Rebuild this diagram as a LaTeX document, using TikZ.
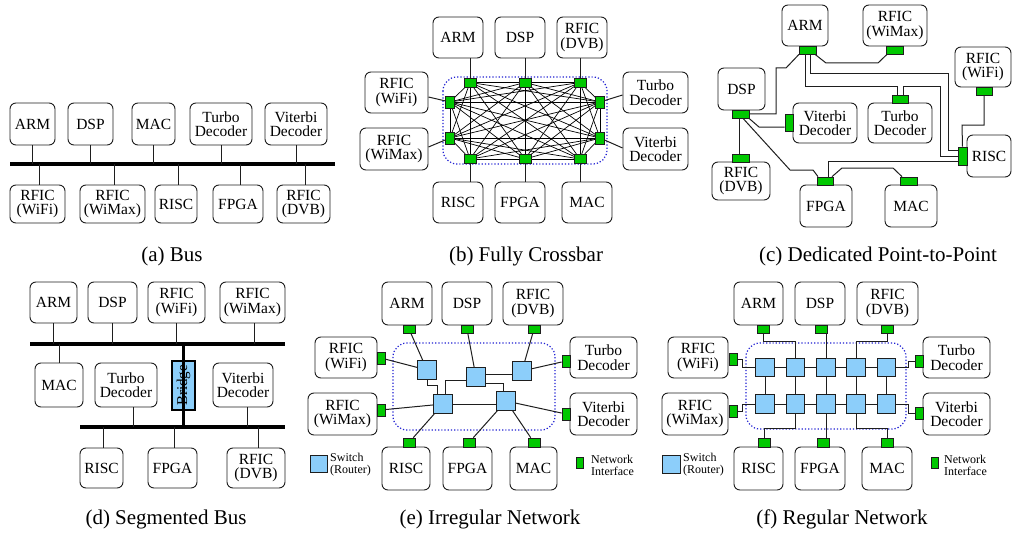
\documentclass[tikz,border=0pt]{standalone}
\usepackage{fontspec}
\setmainfont{Liberation Serif}
\usetikzlibrary{calc,backgrounds}
\definecolor{nigreen}{RGB}{0,200,0}
\definecolor{swblue}{RGB}{140,206,250}
\definecolor{dotblue}{RGB}{30,30,210}
\definecolor{edge}{RGB}{30,30,30}
\tikzset{
  blk/.style={draw=edge, line width=0.9pt, rounded corners=6pt, fill=white, inner sep=0pt,
              align=center, font=\fontsize{15.5}{14.5}\selectfont},
  ni/.style={draw=edge, line width=0.7pt, fill=nigreen, inner sep=0pt},
  sw/.style={draw=edge, line width=0.8pt, fill=swblue, inner sep=0pt, minimum size=19pt},
  wire/.style={draw=edge, line width=1pt},
  bus/.style={line width=4pt, black},
  xbar/.style={line width=0.7pt, black},
  region/.style={draw=dotblue, dotted, line width=1.2pt, rounded corners=14pt},
  bridgebox/.style={draw=black, line width=2pt, fill=swblue, inner sep=0pt, rotate=90,
              minimum width=49pt, minimum height=23pt, font=\fontsize{15}{15}\selectfont},
  captxt/.style={font=\fontsize{21}{24}\selectfont, inner sep=0pt},
  legend/.style={font=\fontsize{12}{12}\selectfont, align=left, inner sep=0pt, anchor=west}
}
% box given by its corners (x1,y1) (x2,y2)
\newcommand{\bx}[6]{%
  \pgfmathsetmacro{\BXw}{#4-#2}\pgfmathsetmacro{\BXh}{#5-#3}%
  \pgfmathsetmacro{\BXx}{(#2+#4)/2}\pgfmathsetmacro{\BXy}{(#3+#5)/2}%
  \node[blk, minimum width=\BXw pt, minimum height=\BXh pt] (#1) at (\BXx,\BXy) {#6};}
% network interface: name, centre, width, height
\newcommand{\nic}[5]{\node[ni, minimum width=#4pt, minimum height=#5pt] (#1) at (#2,#3) {};}
\begin{document}
\begin{tikzpicture}[x=1pt,y=-1pt]
\useasboundingbox (0,0) rectangle (1013,535);

% ---------------- (a) Bus ----------------
\bx{a-arm}{10}{103}{55}{145}{ARM}
\bx{a-dsp}{68}{103}{113}{145}{DSP}
\bx{a-mac}{132}{103}{175}{145}{MAC}
\bx{a-tur}{190}{103}{252}{145}{Turbo\\Decoder}
\bx{a-vit}{265}{103}{327}{145}{Viterbi\\Decoder}
\bx{a-wifi}{10}{185}{65}{223}{RFIC\\(WiFi)}
\bx{a-wmx}{80}{185}{145}{223}{RFIC\\(WiMax)}
\bx{a-risc}{155}{185}{197}{223}{RISC}
\bx{a-fpga}{213}{185}{263}{223}{FPGA}
\bx{a-dvb}{277}{185}{330}{223}{RFIC\\(DVB)}
\coordinate (a-bl) at (10,164);
\coordinate (a-br) at (335,164);
\draw[bus] (a-bl) -- (a-br);
\foreach \n in {a-arm,a-dsp,a-mac,a-tur,a-vit}
  \draw[wire] (\n.south) -- (\n.south |- a-bl);
\foreach \n in {a-wifi,a-wmx,a-risc,a-fpga,a-dvb}
  \draw[wire] ([xshift=2pt]\n.north) -- ([xshift=2pt]\n.north |- a-bl);
\node[captxt] (cap-a) at (172,256) {(a) Bus};

% ---------------- (b) Fully Crossbar ----------------
\bx{b-arm}{433}{17}{483}{58}{ARM}
\bx{b-dsp}{495}{17}{545}{58}{DSP}
\bx{b-dvb}{557}{17}{607}{58}{RFIC\\(DVB)}
\bx{b-wifi}{365}{72}{428}{113}{RFIC\\(WiFi)}
\bx{b-wmx}{360}{128}{428}{170}{RFIC\\(WiMax)}
\bx{b-tur}{623}{72}{688}{113}{Turbo\\Decoder}
\bx{b-vit}{623}{128}{688}{170}{Viterbi\\Decoder}
\bx{b-risc}{433}{182}{483}{223}{RISC}
\bx{b-fpga}{495}{182}{545}{223}{FPGA}
\bx{b-mac}{562}{182}{612}{223}{MAC}
\nic{b-t1}{470}{82.5}{12}{9}
\nic{b-t2}{525}{82.5}{12}{9}
\nic{b-t3}{580}{82.5}{12}{9}
\nic{b-l1}{450}{102}{9}{12}
\nic{b-l2}{450}{138}{9}{12}
\nic{b-r1}{600}{102}{9}{12}
\nic{b-r2}{600}{138}{9}{12}
\nic{b-b1}{470}{159}{12}{9}
\nic{b-b2}{525}{159}{12}{9}
\nic{b-b3}{580}{159}{12}{9}
\begin{scope}[on background layer]
  \draw[region] (443,77) rectangle (607,164);
  \foreach \u [count=\i] in {b-t1,b-t2,b-t3,b-r1,b-r2,b-b3,b-b2,b-b1,b-l2,b-l1}{
    \foreach \v [count=\j] in {b-t1,b-t2,b-t3,b-r1,b-r2,b-b3,b-b2,b-b1,b-l2,b-l1}{
      \ifnum\j>\i\relax \draw[xbar] (\u.center) -- (\v.center);\fi
    }
  }
\end{scope}
\draw[wire] (b-t1) -- (b-t1 |- b-arm.south);
\draw[wire] (b-t2) -- (b-t2 |- b-dsp.south);
\draw[wire] (b-t3) -- (b-t3 |- b-dvb.south);
\draw[wire] (b-b1) -- (b-b1 |- b-risc.north);
\draw[wire] (b-b2) -- (b-b2 |- b-fpga.north);
\draw[wire] (b-b3) -- (b-b3 |- b-mac.north);
\draw[wire] ($(b-wifi.east)+(0,4.5)$) -- (b-l1);
\draw[wire] ($(b-wmx.east)+(0,-2)$) -- (b-l2);
\draw[wire] ($(b-tur.west)+(0,2.5)$) -- (b-r1);
\draw[wire] ($(b-vit.west)+(0,-1)$) -- (b-r2);
\node[captxt] (cap-b) at (526,256) {(b) Fully Crossbar};

% ---------------- (c) Dedicated Point-to-Point ----------------
\bx{c-arm}{782}{5}{828}{46}{ARM}
\bx{c-wmx}{863}{5}{927}{46}{RFIC\\(WiMax)}
\bx{c-wifi}{955}{47}{1011}{87}{RFIC\\(WiFi)}
\bx{c-dsp}{718}{68}{765}{110}{DSP}
\bx{c-vit}{793}{103}{857}{143}{Viterbi\\Decoder}
\bx{c-tur}{868}{103}{932}{143}{Turbo\\Decoder}
\bx{c-risc}{967}{135}{1011}{177}{RISC}
\bx{c-dvb}{712}{162}{770}{200}{RFIC\\(DVB)}
\bx{c-fpga}{800}{185}{852}{227}{FPGA}
\bx{c-mac}{885}{185}{937}{227}{MAC}
\nic{c-armni}{808}{50}{17}{8}
\nic{c-wmxni}{895}{50}{17}{8}
\nic{c-wifini}{984}{91}{16}{8}
\nic{c-dspni}{741}{114}{17}{8}
\nic{c-vitni}{789}{123}{8}{17}
\nic{c-turni}{900}{99}{16}{8}
\nic{c-riscni}{962.5}{156}{9}{18}
\nic{c-dvbni}{741}{158}{17}{8}
\nic{c-fpgani}{825}{181}{16}{8}
\nic{c-macni}{909}{181}{17}{8}
\draw[wire] ([xshift=7pt]c-armni.south) -- (826,63) -- (878,63) -- ([xshift=-8pt]c-wmxni.south);
\draw[wire] ([xshift=-9pt]c-armni.south) -- (786,68) -- (776,68) -- (776,114) -- (c-dspni.east);
\draw[wire] ([xshift=-3pt]c-armni.south) -- (805,87) -- (897,87) -- ([xshift=-3pt]c-turni.north);
\draw[wire] ([xshift=3pt]c-turni.north) -- (903,87) -- (940,87) -- (940,156) -- (c-riscni.west);
\draw[wire] ([xshift=2pt]c-armni.south) -- (810,74) -- (948,74) -- (948,150) -- ([yshift=6pt]c-riscni.west);
\draw[wire] (c-wifini.south) -- (984,125) -- (962,125) -- (c-riscni.north);
\draw[wire] ([xshift=8pt]c-dspni.south) -- (759,127) -- ([yshift=-4pt]c-vitni.west);
\draw[wire] ([xshift=-2pt]c-dspni.south) -- ([xshift=-2pt]c-dvbni.north);
\draw[wire] ([xshift=2pt]c-dspni.south) -- (790,170) -- (813,170) -- ([xshift=-7pt]c-fpgani.north);
\draw[wire] ([xshift=7pt]c-fpgani.north) -- (842,168) -- (893,168) -- ([xshift=-7pt]c-macni.north);
\draw[wire] ([xshift=3pt]c-fpgani.north) -- (828,161) -- ([yshift=-5pt]c-riscni.west);
\node[captxt] (cap-c) at (878,256) {(c) Dedicated Point-to-Point};

% ---------------- (d) Segmented Bus ----------------
\bx{d-arm}{30}{282}{77}{323}{ARM}
\bx{d-dsp}{88}{282}{137}{323}{DSP}
\bx{d-wifi}{148}{282}{205}{323}{RFIC\\(WiFi)}
\bx{d-wmx}{220}{282}{285}{323}{RFIC\\(WiMax)}
\bx{d-mac}{35}{363}{83}{407}{MAC}
\bx{d-tur}{95}{363}{157}{407}{Turbo\\Decoder}
\bx{d-vit}{213}{363}{273}{407}{Viterbi\\Decoder}
\bx{d-risc}{80}{448}{123}{488}{RISC}
\bx{d-fpga}{148}{448}{197}{488}{FPGA}
\bx{d-dvb}{227}{448}{285}{488}{RFIC\\(DVB)}
\coordinate (d-b1l) at (30,344);
\coordinate (d-b1r) at (285,344);
\coordinate (d-b2l) at (80,427);
\coordinate (d-b2r) at (285,427);
\node[bridgebox] (d-brg) at (183.5,385.5) {Bridge};
\draw[bus] (d-b1l) -- (d-b1r);
\draw[bus] (d-b2l) -- (d-b2r);
\draw[line width=3pt] (d-brg.west) -- (d-brg.west |- d-b1l);
\draw[line width=3pt] (d-brg.east) -- (d-brg.east |- d-b2l);
\foreach \n in {d-arm,d-dsp,d-wifi}
  \draw[wire] (\n.south) -- (\n.south |- d-b1l);
\draw[wire] ([xshift=2pt]d-wmx.south) -- ([xshift=2pt]d-wmx.south |- d-b1l);
\draw[wire] (d-mac.north) -- (d-mac.north |- d-b1l);
\draw[wire] ([xshift=7pt]d-tur.south) -- ([xshift=7pt]d-tur.south |- d-b2l);
\draw[wire] ([xshift=4pt]d-vit.south) -- ([xshift=4pt]d-vit.south |- d-b2l);
\foreach \n in {d-risc,d-fpga,d-dvb}
  \draw[wire] ([xshift=2pt]\n.north) -- ([xshift=2pt]\n.north |- d-b2l);
\node[captxt] (cap-d) at (166,519) {(d) Segmented Bus};

% ---------------- (e) Irregular Network ----------------
\draw[region] (393,343) rectangle (555,430);
\bx{e-arm}{382}{282}{432}{325}{ARM}
\bx{e-dsp}{442}{282}{492}{325}{DSP}
\bx{e-dvb}{503}{282}{563}{325}{RFIC\\(DVB)}
\bx{e-wifi}{315}{337}{377}{378}{RFIC\\(WiFi)}
\bx{e-wmx}{308}{393}{377}{435}{RFIC\\(WiMax)}
\bx{e-tur}{570}{337}{637}{378}{Turbo\\Decoder}
\bx{e-vit}{570}{393}{637}{435}{Viterbi\\Decoder}
\bx{e-risc}{382}{447}{430}{490}{RISC}
\bx{e-fpga}{443}{447}{492}{490}{FPGA}
\bx{e-mac}{510}{447}{557}{490}{MAC}
\nic{e-armni}{409}{329}{12}{8}
\nic{e-dspni}{467}{329}{12}{8}
\nic{e-dvbni}{534}{329}{12}{8}
\nic{e-wifini}{381}{358}{8}{12}
\nic{e-wmxni}{381}{410}{8}{12}
\nic{e-turni}{566}{361}{8}{12}
\nic{e-vitni}{566}{414}{8}{12}
\nic{e-riscni}{409}{442.5}{12}{9}
\nic{e-fpgani}{469}{442.5}{12}{9}
\nic{e-macni}{534}{442.5}{12}{9}
\node[sw] (e-s1) at (427,370) {};
\node[sw] (e-s2) at (476,377) {};
\node[sw] (e-s3) at (522,371) {};
\node[sw] (e-s4) at (443,404) {};
\node[sw] (e-s5) at (506,401) {};
\draw[wire] (e-armni) -- (e-s1);
\draw[wire] (e-dspni) -- (e-s2);
\draw[wire] (e-dvbni) -- (e-s3);
\draw[wire] (e-wifini) -- (e-s1);
\draw[wire] (e-turni) -- (e-s3);
\draw[wire] (e-wmxni) -- (e-s4);
\draw[wire] (e-vitni) -- (e-s5);
\draw[wire] (e-riscni) -- (e-s4);
\draw[wire] (e-fpgani) -- (e-s5);
\draw[wire] (e-macni) -- (e-s5);
\draw[wire] (e-s1.south) -- ++(0,6) -| ([xshift=-6pt]e-s4.north);
\draw[wire] ([yshift=-3pt]e-s2.west) -| ([xshift=2pt]e-s4.north);
\draw[wire] ([yshift=3pt]e-s2.east) -- ([yshift=3pt]e-s2.east -| e-s3.west);
\draw[wire] ([yshift=-6pt]e-s2.east) -| ([xshift=-3pt]e-s5.north);
\draw[wire] (e-s4.east) -- (e-s4.east -| e-s5.west);
\node[sw, minimum size=17pt] (e-lsw) at (318.5,463.5) {};
\node[legend] (e-lswt) at (330,465) {Switch\\(Router)};
\node[ni, minimum width=7pt, minimum height=11pt] (e-lni) at (580,462.5) {};
\node[legend] (e-lnit) at (591,465) {Network\\Interface};
\node[captxt] (cap-e) at (490,519) {(e) Irregular Network};

% ---------------- (f) Regular Network ----------------
\draw[region] (746,343) rectangle (906,429);
\bx{f-arm}{734}{282}{783}{325}{ARM}
\bx{f-dsp}{795}{282}{845}{325}{DSP}
\bx{f-dvb}{857}{282}{918}{325}{RFIC\\(DVB)}
\bx{f-wifi}{668}{337}{728}{378}{RFIC\\(WiFi)}
\bx{f-wmx}{662}{393}{728}{435}{RFIC\\(WiMax)}
\bx{f-tur}{923}{337}{990}{378}{Turbo\\Decoder}
\bx{f-vit}{923}{393}{990}{435}{Viterbi\\Decoder}
\bx{f-risc}{734}{447}{783}{490}{RISC}
\bx{f-fpga}{795}{447}{845}{490}{FPGA}
\bx{f-mac}{862}{447}{912}{490}{MAC}
\nic{f-armni}{763}{329}{12}{8}
\nic{f-dspni}{821}{329}{12}{8}
\nic{f-dvbni}{887}{329}{12}{8}
\nic{f-wifini}{733}{359}{8}{12}
\nic{f-wmxni}{733}{411}{8}{12}
\nic{f-turni}{919}{361}{8}{12}
\nic{f-vitni}{919}{413}{8}{12}
\nic{f-riscni}{764}{442.5}{12}{9}
\nic{f-fpgani}{823}{442.5}{12}{9}
\nic{f-macni}{887}{442.5}{12}{9}
\foreach \c/\x in {1/765,2/795.5,3/826,4/856,5/886.5}{
  \node[sw, minimum size=18.5pt] (f-s1\c) at (\x,367.5) {};
  \node[sw, minimum size=18.5pt] (f-s2\c) at (\x,404) {};
}
\foreach \a/\b in {1/2,2/3,3/4,4/5}{
  \draw[wire] (f-s1\a) -- (f-s1\b);
  \draw[wire] (f-s2\a) -- (f-s2\b);
}
\foreach \c in {1,2,3,4,5}
  \draw[wire] (f-s1\c) -- (f-s2\c);
\draw[wire] (f-armni.south) -- ++(0,8) -| (f-s12.north);
\draw[wire] (f-s13.north |- f-dspni.south) -- (f-s13.north);
\draw[wire] (f-dvbni.south) -- ++(0,8) -| (f-s14.north);
\draw[wire] (f-wifini.east) -- ++(5,0) |- (f-s11.west);
\draw[wire] (f-wmxni.east) -- ++(5,0) |- (f-s21.west);
\draw[wire] (f-s15.east) -- ++(12,0) |- (f-turni.west);
\draw[wire] (f-s25.east) -- ++(12,0) |- (f-vitni.west);
\draw[wire] (f-riscni.north) -- ++(0,-9) -| (f-s22.south);
\draw[wire] (f-s23.south |- f-fpgani.north) -- (f-s23.south);
\draw[wire] (f-macni.north) -- ++(0,-9) -| (f-s24.south);
\node[sw, minimum size=18pt] (f-lsw) at (671,464) {};
\node[legend] (f-lswt) at (683,465) {Switch\\(Router)};
\node[ni, minimum width=7pt, minimum height=11pt] (f-lni) at (935,462.5) {};
\node[legend] (f-lnit) at (944,465) {Network\\Interface};
\node[captxt] (cap-f) at (842,519) {(f) Regular Network};
\end{tikzpicture}
\end{document}
